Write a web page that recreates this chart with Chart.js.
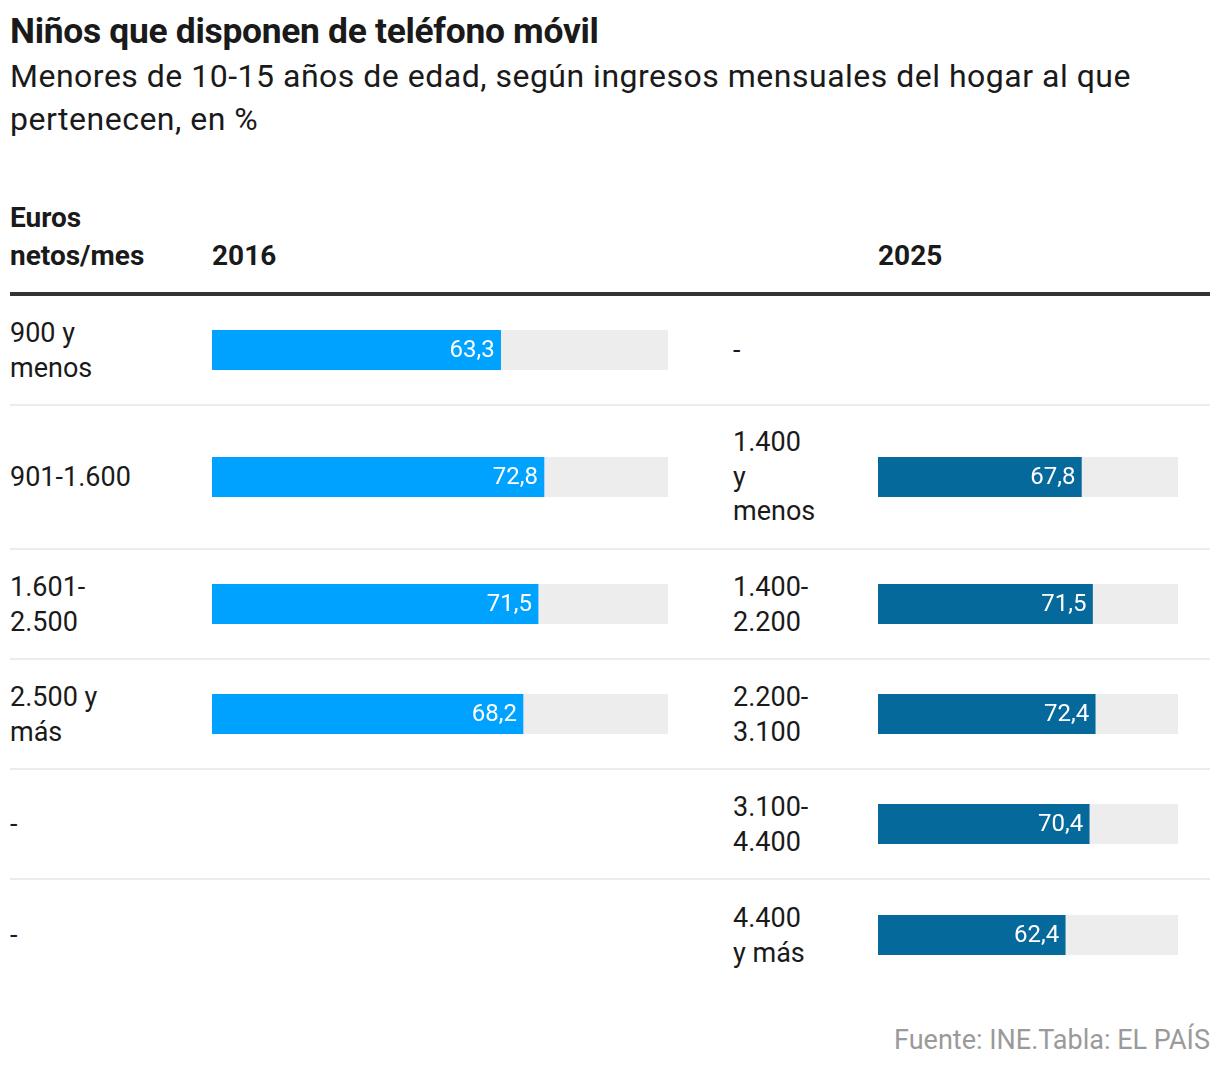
<!DOCTYPE html>
<html lang="es">
<head>
<meta charset="utf-8">
<script src="https://cdn.jsdelivr.net/npm/chart.js@4"></script>
<style>
  body { margin: 0; background: #fff; font-family: Roboto, "Liberation Sans", sans-serif; color: #1a1a1a; }
  #page { position: relative; width: 1220px; height: 1072px; }
  h1 { position: absolute; left: 10px; top: 10px; margin: 0; font-size: 35.4px; font-weight: 700; letter-spacing: -0.3px; }
  .sub { position: absolute; left: 10px; top: 55px; width: 1180px; margin: 0; font-size: 32px; line-height: 43px; font-weight: 400; letter-spacing: 0.5px; }
  .head { position: absolute; top: 199px; font-size: 28px; font-weight: 700; line-height: 38px; }
  .rule { position: absolute; left: 10px; top: 292px; width: 1200px; height: 4px; background: #333; }
  #rows { position: absolute; left: 10px; top: 296px; width: 1200px; }
  .row { position: relative; border-bottom: 2px solid #ececec; }
  .row:last-child { border-bottom: none; }
  .lbl { position: absolute; font-size: 27px; line-height: 34.5px; transform: translateY(-50%); }
  .row canvas { position: absolute; }
  .foot { position: absolute; right: 10px; top: 1024px; font-size: 27px; color: #9a9a9a; }
</style>
</head>
<body>
<div id="page">
  <h1>Niños que disponen de teléfono móvil</h1>
  <p class="sub">Menores de 10-15 años de edad, según ingresos mensuales del hogar al que pertenecen, en %</p>
  <div class="head" style="left:10px">Euros<br>netos/mes</div>
  <div class="head" style="left:212px; top:237px">2016</div>
  <div class="head" style="left:878px; top:237px">2025</div>
  <div class="rule"></div>
  <div id="rows"></div>
  <div class="foot">Fuente: INE.Tabla: EL PAÍS</div>
</div>
<script>
// Tramos de ingresos (cada elemento es una línea del rótulo)
const tramos2016 = [['900 y', 'menos'], ['901-1.600'], ['1.601-', '2.500'], ['2.500 y', 'más'], ['-'], ['-']];
const valores2016 = [63.3, 72.8, 71.5, 68.2, null, null];
const tramos2025 = [['-'], ['1.400', 'y', 'menos'], ['1.400-', '2.200'], ['2.200-', '3.100'], ['3.100-', '4.400'], ['4.400', 'y más']];
const valores2025 = [null, 67.8, 71.5, 72.4, 70.4, 62.4];

const rowHeights = [108, 142, 108, 108, 108, 110];
const color2016 = '#00a2ff';
const color2025 = '#06699b';

// grey track behind the bar + white value label at the end of the bar
const barDecor = {
  id: 'barDecor',
  beforeDatasetsDraw(chart) {
    const { ctx, chartArea } = chart;
    ctx.save();
    ctx.fillStyle = '#ededed';
    ctx.fillRect(chartArea.left, chartArea.top, chartArea.width, chartArea.height);
    ctx.restore();
  },
  afterDatasetsDraw(chart) {
    const { ctx } = chart;
    const meta = chart.getDatasetMeta(0);
    const value = chart.data.datasets[0].data[0];
    const bar = meta.data[0];
    ctx.save();
    ctx.fillStyle = '#fff';
    ctx.font = '24px Roboto, sans-serif';
    ctx.textAlign = 'right';
    ctx.textBaseline = 'middle';
    ctx.fillText(value.toFixed(1).replace('.', ','), bar.x - 6, bar.y + 1);
    ctx.restore();
  }
};

function makeBar(parent, left, width, value, color) {
  const canvas = document.createElement('canvas');
  canvas.style.left = left + 'px';
  canvas.style.top = '50%';
  canvas.style.marginTop = '-20px';
  canvas.style.width = width + 'px';
  canvas.style.height = '40px';
  canvas.width = width;
  canvas.height = 40;
  parent.appendChild(canvas);
  new Chart(canvas.getContext('2d'), {
    type: 'bar',
    data: {
      labels: [''],
      datasets: [{
        data: [value],
        backgroundColor: color,
        borderWidth: 0,
        barPercentage: 1,
        categoryPercentage: 1
      }]
    },
    options: {
      indexAxis: 'y',
      responsive: false,
      animation: false,
      layout: { padding: 0 },
      plugins: { legend: { display: false }, tooltip: { enabled: false } },
      scales: {
        x: { display: false, min: 0, max: 100 },
        y: { display: false }
      }
    },
    plugins: [barDecor]
  });
}

function makeLabel(parent, left, lines) {
  const div = document.createElement('div');
  div.className = 'lbl';
  div.style.left = left + 'px';
  div.style.top = '50%';
  div.innerHTML = lines.join('<br>');
  parent.appendChild(div);
}

const rows = document.getElementById('rows');
rowHeights.forEach((h, i) => {
  const row = document.createElement('div');
  row.className = 'row';
  row.style.height = h + 'px';
  rows.appendChild(row);
  makeLabel(row, 0, tramos2016[i]);
  if (valores2016[i] !== null) makeBar(row, 202, 456, valores2016[i], color2016);
  makeLabel(row, 723, tramos2025[i]);
  if (valores2025[i] !== null) makeBar(row, 868, 300, valores2025[i], color2025);
});
</script>
</body>
</html>
